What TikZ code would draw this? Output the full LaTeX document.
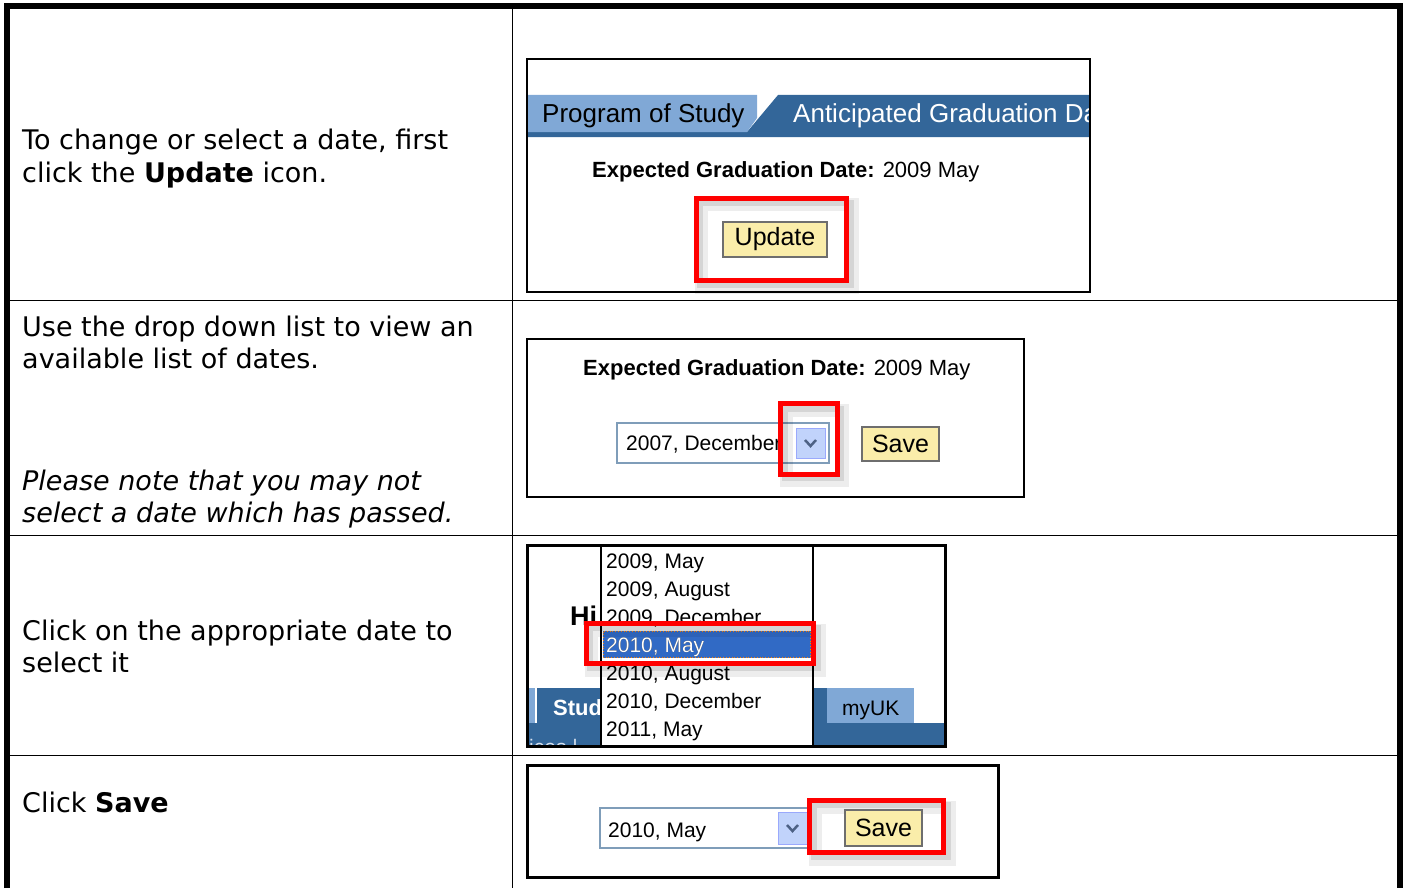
\documentclass[tikz,border=0pt]{standalone}
\usepackage{fontspec}
\setmainfont{DejaVu Sans}
\newfontfamily\uifont{Liberation Sans}
\usetikzlibrary{positioning}
\definecolor{tablight}{RGB}{128,168,214}
\definecolor{tabdark}{RGB}{51,102,153}
\definecolor{btnyellow}{RGB}{250,237,170}
\definecolor{btnedge}{RGB}{110,110,110}
\definecolor{dropedge}{RGB}{127,157,185}
\definecolor{arrowfill}{RGB}{193,211,251}
\definecolor{chevron}{RGB}{77,97,133}
\definecolor{selblue}{RGB}{49,106,197}
\definecolor{faintui}{RGB}{215,225,238}
\tikzset{
  celltext/.style={anchor=base west,inner sep=0pt,font=\fontsize{27}{33}\selectfont},
  uitext/.style={anchor=base west,inner sep=0pt,font=\uifont\fontsize{22}{26}\selectfont},
  listtext/.style={anchor=base west,inner sep=0pt,font=\uifont\fontsize{21}{25}\selectfont},
  tabtext/.style={anchor=base west,inner sep=0pt,font=\uifont\fontsize{26}{30}\selectfont},
  button/.style={draw=btnedge,fill=btnyellow,line width=1.5pt,inner sep=0pt,font=\uifont\fontsize{25}{28}\selectfont},
  dropbox/.style={draw=dropedge,fill=white,line width=1.3pt},
  arrowbox/.style={fill=arrowfill,draw=arrowfill!80!blue},
  redmark/.style={draw=red,line width=5pt},
  markshadow/.style={draw=black,opacity=.07,line width=13pt},
  markshade/.style={draw=black,opacity=.1,line width=6pt},
  shotframe/.style={draw=black,line width=3pt}
}

\begin{document}
\begin{tikzpicture}[x=1pt,y=-1pt]
\useasboundingbox (0,0) rectangle (1404,888);
% table lines
\draw[line width=6pt] (7,888) -- (7,6) -- (1400,6) -- (1400,888);
\draw[line width=1.3pt] (512.5,9) -- (512.5,888);
\foreach \y in {300.5,535.5,755.5}
  \draw[line width=1.3pt] (10,\y) -- (1397,\y);

% left column
\node[celltext] (stepA1) at (22,149) {To change or select a date, first};
\node[celltext] (stepA2) at (22,182) {click the \textbf{Update} icon.};
\node[celltext] (stepB1) at (22,336) {Use the drop down list to view an};
\node[celltext] (stepB2) at (22,368) {available list of dates.};
\node[celltext] (noteB1) at (22,490) {\textit{Please note that you may not}};
\node[celltext] (noteB2) at (22,522) {\textit{select a date which has passed.}};
\node[celltext] (stepC1) at (22,640) {Click on the appropriate date to};
\node[celltext] (stepC2) at (22,672) {select it};
\node[celltext] (stepD) at (22,812) {Click \textbf{Save}};

% shot 1: update
\begin{scope}
\clip (527,59) rectangle (1090,292);
\fill[tabdark] (778,95) -- (1090,95) -- (1090,137) -- (527,137) -- (527,132) -- (747,132) -- cycle;
\fill[tablight] (527,95) -- (757,95) -- (757,118) -- (747,132) -- (527,132) -- cycle;
\node[tabtext] (tabprog) at (542,123) {Program of Study};
\node[tabtext,text=white] (tabgrad) at (793,123) {Anticipated Graduation Date};
\end{scope}
\node[uitext] (expA) at (592,177) {\textbf{Expected Graduation Date:} 2009 May};
\node[button,minimum width=104pt,minimum height=35pt] (update) at (775,239.5) {Update};
\draw[markshadow] (701,204) rectangle (852,287);
\draw[markshade] (700,203) rectangle (851,285);
\draw[redmark] (696.5,198.5) rectangle (846.5,280.5);
\draw[line width=2.5pt] (527,59) rectangle (1090,292);

% shot 2: drop down
\node[uitext] (expB) at (583,375) {\textbf{Expected Graduation Date:} 2009 May};
\draw[dropbox] (617,423) rectangle (829,463);
\begin{scope}
\clip (617,423) rectangle (795,463);
\node[listtext] (dateB) at (626,450) {2007, December};
\end{scope}
\draw[arrowbox] (796,428) rectangle (825,458);
\draw[chevron,line width=2.5pt] (805,440) -- (810.5,446) -- (816,440);
\node[button,minimum width=77pt,minimum height=34pt] (saveB) at (900.5,444) {Save};
\draw[markshadow] (786,410) rectangle (842,480);
\draw[markshade] (785,409) rectangle (841,478);
\draw[redmark] (780.5,403.5) rectangle (837.5,474.5);
\draw[line width=2.5pt] (527,339) rectangle (1024,497);

% shot 3: list of dates
\begin{scope}
\clip (527,545) rectangle (945,746);
\node[anchor=base west,inner sep=0pt,font=\uifont\bfseries\fontsize{27}{30}\selectfont] (hi) at (570,625) {Hi};
\fill[tabdark] (537,688) rectangle (827,723);
\fill[tabdark] (527,723) rectangle (945,746);
\fill[tablight] (527,688) rectangle (535,723);
\fill[tablight] (827,688) rectangle (914,723);
\node[listtext,font=\uifont\bfseries\fontsize{22}{26}\selectfont,text=white] (stud) at (553,715) {Stud};
\node[listtext,text=faintui] (ices) at (529,754) {ices \textbar};
\node[listtext] (myuk) at (842,715) {myUK};
\draw[fill=white,line width=1.5pt] (601,545) rectangle (813,746);
\fill[selblue] (603,631) rectangle (811,658);
\draw[orange,dotted,line width=.8pt] (603.5,631.5) rectangle (810.5,657.5);
\foreach \d [count=\i] in {{2009, May},{2009, August},{2009, December},{2010, May},{2010, August},{2010, December},{2011, May}}
  \node[listtext] (item\i) at (606,540+28*\i) {\d};
\node[listtext,text=white] (itemsel) at (606,652) {2010, May};
\end{scope}
\draw[markshadow] (591,630) rectangle (819,670);
\draw[markshade] (590,628) rectangle (818,668);
\draw[redmark] (586,623.5) rectangle (813.5,663.5);
\draw[shotframe] (527,545) rectangle (945,746);

% shot 4: save
\draw[dropbox] (600,808) rectangle (815,848);
\node[listtext] (dateD) at (608,837) {2010, May};
\draw[arrowbox] (778,812) rectangle (807,844);
\draw[chevron,line width=2.5pt] (787,825) -- (792.5,831) -- (798,825);
\draw[fill=white,draw=none] (807.5,798.5) rectangle (945.5,854.5);
\draw[markshadow] (815,807) rectangle (949,859);
\draw[markshade] (814,805) rectangle (948,857);
\node[button,minimum width=77pt,minimum height=36pt] (saveD) at (883.5,828) {Save};
\draw[redmark] (809.5,800.5) rectangle (943.5,852.5);
\draw[shotframe] (527.5,765.5) rectangle (998.5,877.5);
\end{tikzpicture}
\end{document}
